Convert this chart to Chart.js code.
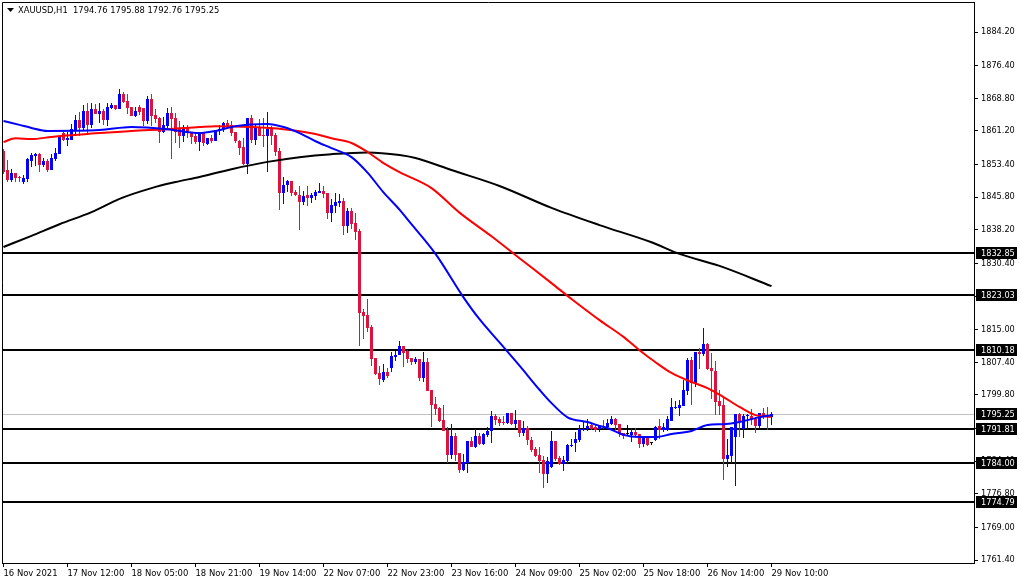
<!DOCTYPE html>
<html>
<head>
<meta charset="utf-8">
<title>XAUUSD,H1</title>
<script src="https://cdn.jsdelivr.net/npm/chart.js@4"></script>
<style>
  html, body { margin: 0; padding: 0; background: #fff; }
  canvas { display: block; }
</style>
</head>
<body>
<canvas id="chart" width="1020" height="584"></canvas>
<script>
const header = "XAUUSD,H1  1794.76 1795.88 1792.76 1795.25";

// one time label every 16 bars
const timeLabels = ["16 Nov 2021","17 Nov 12:00","18 Nov 05:00","18 Nov 21:00","19 Nov 14:00","22 Nov 07:00","22 Nov 23:00","23 Nov 16:00","24 Nov 09:00","25 Nov 02:00","25 Nov 18:00","26 Nov 14:00","29 Nov 10:00"];
const priceTicks = [1884.2,1876.4,1868.8,1861.2,1853.4,1845.8,1838.2,1830.4,1822.8,1815.0,1807.4,1799.8,1792.0,1784.4,1776.8,1769.0,1761.4];

// horizontal levels
const levels = [1832.85,1823.03,1810.18,1791.81,1784.00,1774.79];
const lastPrice = 1795.25;

const opens = [
  1856.5,1852.1,1849.8,1851.3,1850.4,1849.4,1850.0,1854.2,1855.4,1855.8,
  1853.3,1854.2,1852.1,1854.7,1855.8,1860.6,1859.2,1859.2,1861.4,1863.7,
  1861.8,1865.8,1862.6,1866.3,1865.1,1865.8,1863.7,1866.5,1867.2,1866.3,
  1869.8,1868.2,1866.7,1864.7,1866.7,1866.6,1863.6,1868.6,1864.9,1864.3,
  1861.0,1862.3,1865.4,1864.3,1861.8,1859.9,1862.2,1860.6,1859.9,1858.7,
  1860.8,1858.1,1859.6,1858.9,1861.1,1861.6,1863.1,1862.6,1860.9,1858.9,
  1857.5,1853.5,1864.1,1859.2,1862.0,1860.2,1859.9,1861.6,1860.2,1856.5,
  1846.8,1848.6,1849.6,1846.9,1846.3,1844.7,1846.3,1845.7,1846.0,1846.7,
  1847.2,1846.7,1842.0,1843.7,1844.4,1844.9,1839.1,1842.6,1839.7,1837.9,
  1819.0,1818.4,1815.5,1808.3,1804.8,1803.3,1805.1,1806.0,1808.7,1809.1,
  1811.2,1809.9,1808.3,1807.5,1808.1,1803.8,1807.5,1800.9,1797.7,1796.8,
  1794.0,1791.6,1785.8,1790.2,1786.2,1782.3,1783.9,1789.1,1787.6,1790.2,
  1788.4,1790.5,1791.3,1794.9,1794.1,1793.5,1793.3,1795.5,1793.0,1794.0,
  1791.0,1792.0,1789.2,1787.2,1785.8,1784.7,1781.4,1783.1,1789.1,1785.2,
  1783.7,1784.4,1787.9,1788.7,1789.3,1791.6,1791.8,1792.8,1792.3,1791.8,
  1792.6,1792.4,1793.0,1794.2,1793.0,1790.9,1790.6,1790.5,1791.2,1790.6,
  1788.4,1789.7,1788.6,1789.3,1792.6,1791.6,1791.6,1793.8,1796.8,1796.8,
  1797.2,1800.7,1807.9,1802.5,1809.7,1809.3,1811.6,1806.0,1805.4,1798.4,
  1797.5,1784.9,1785.7,1790.1,1795.4,1791.9,1794.9,1795.0,1794.3,1792.6,
  1795.5,1794.9,1794.76
];
const closes = [
  1851.7,1849.8,1851.3,1850.3,1850.2,1850.2,1854.6,1855.6,1855.8,1853.3,
  1854.2,1852.1,1854.8,1856.0,1860.0,1859.2,1859.6,1861.6,1863.7,1861.8,
  1865.8,1862.6,1866.2,1865.1,1865.8,1863.7,1866.7,1867.2,1866.2,1869.8,
  1868.0,1866.6,1864.7,1865.8,1865.7,1863.6,1868.6,1864.7,1864.0,1861.0,
  1862.6,1865.4,1864.0,1861.0,1859.9,1861.6,1860.6,1859.7,1858.6,1860.9,
  1858.5,1859.6,1858.9,1861.3,1861.6,1863.0,1861.8,1860.6,1858.9,1857.3,
  1853.5,1864.1,1859.2,1862.0,1859.9,1859.9,1861.6,1860.0,1856.4,1846.8,
  1848.6,1849.6,1846.8,1846.2,1844.7,1846.0,1845.7,1846.3,1847.0,1847.2,
  1846.5,1842.0,1844.0,1844.7,1845.0,1839.1,1842.6,1839.6,1837.8,1818.9,
  1818.2,1815.4,1808.2,1804.7,1803.5,1805.1,1804.2,1808.9,1809.2,1811.2,
  1809.6,1808.2,1807.5,1808.1,1803.8,1807.5,1800.7,1797.5,1796.5,1793.7,
  1791.4,1785.8,1790.2,1785.8,1782.3,1784.1,1789.1,1787.8,1790.2,1788.5,
  1790.7,1791.4,1794.9,1794.0,1793.3,1793.3,1795.5,1793.0,1793.9,1791.0,
  1792.0,1789.2,1787.0,1785.6,1784.4,1781.4,1784.4,1789.1,1785.0,1783.7,
  1784.7,1788.2,1788.2,1789.5,1791.8,1791.9,1792.6,1791.9,1791.6,1792.6,
  1792.4,1793.3,1794.2,1792.8,1790.7,1790.3,1790.6,1791.1,1790.5,1788.4,
  1790.1,1788.2,1788.6,1792.4,1791.6,1792.3,1794.2,1796.9,1797.0,1797.5,
  1800.9,1807.9,1802.6,1809.7,1809.3,1811.6,1805.8,1805.4,1798.2,1797.2,
  1784.9,1785.8,1792.4,1795.4,1793.4,1795.0,1795.1,1794.1,1792.6,1795.7,
  1794.6,1794.6,1795.25
];
const highs = [
  1857.0,1854.4,1852.3,1851.3,1850.8,1851.0,1854.8,1856.0,1856.1,1856.0,
  1854.8,1854.6,1855.8,1857.2,1860.0,1861.4,1861.0,1862.8,1864.9,1865.5,
  1867.2,1867.8,1867.6,1867.5,1867.8,1866.2,1867.6,1867.6,1867.2,1870.9,
  1870.2,1869.8,1866.7,1866.8,1867.2,1866.6,1869.3,1869.8,1866.2,1864.4,
  1864.5,1866.5,1866.8,1865.3,1863.4,1862.6,1862.6,1861.0,1860.6,1860.9,
  1861.0,1859.6,1860.2,1861.4,1862.6,1863.3,1863.7,1863.5,1861.0,1859.1,
  1859.5,1864.1,1864.9,1862.8,1863.9,1864.1,1865.5,1862.3,1860.6,1857.3,
  1850.4,1849.8,1849.6,1847.5,1848.4,1847.2,1848.4,1846.8,1847.5,1849.0,
  1848.4,1846.8,1845.4,1846.8,1846.5,1845.5,1843.2,1843.2,1842.0,1838.4,
  1819.7,1822.1,1816.1,1808.3,1806.5,1807.0,1806.0,1809.8,1809.9,1812.3,
  1811.2,1810.3,1808.5,1808.7,1808.1,1809.8,1808.3,1801.0,1799.4,1797.1,
  1797.5,1792.3,1793.0,1790.9,1786.2,1786.0,1789.1,1790.1,1791.8,1790.9,
  1791.0,1792.3,1796.1,1795.4,1794.7,1794.9,1795.7,1795.7,1796.3,1794.0,
  1793.7,1792.6,1790.1,1787.6,1787.8,1785.6,1785.4,1791.4,1789.1,1785.7,
  1785.6,1788.5,1789.5,1791.2,1792.8,1793.6,1794.1,1793.2,1793.0,1792.8,
  1794.0,1794.2,1794.9,1794.5,1793.0,1791.0,1792.7,1792.0,1792.0,1790.6,
  1790.1,1790.1,1788.6,1792.6,1794.2,1793.2,1794.9,1799.0,1798.4,1798.6,
  1803.3,1808.3,1808.7,1809.7,1810.6,1815.3,1811.8,1809.5,1807.8,1800.9,
  1799.0,1789.5,1792.4,1795.4,1795.5,1795.3,1795.3,1796.5,1794.6,1795.7,
  1796.7,1796.9,1795.88
];
const lows = [
  1851.2,1849.4,1849.4,1849.3,1849.4,1848.9,1849.4,1852.7,1853.1,1851.7,
  1852.9,1851.7,1852.1,1854.3,1855.8,1858.9,1857.8,1859.2,1860.0,1859.9,
  1861.4,1860.3,1861.8,1865.1,1863.0,1862.6,1862.3,1866.2,1866.1,1866.3,
  1867.6,1865.1,1864.7,1864.4,1864.9,1862.3,1862.8,1862.3,1863.0,1858.5,
  1860.8,1861.8,1854.7,1858.5,1857.3,1858.7,1859.5,1858.1,1858.1,1856.6,
  1857.8,1857.9,1858.5,1858.9,1860.2,1861.0,1861.8,1859.9,1858.3,1855.6,
  1853.3,1851.2,1858.3,1857.9,1859.9,1857.5,1851.7,1857.9,1855.4,1842.8,
  1844.2,1846.9,1846.0,1846.0,1838.2,1844.0,1843.7,1844.4,1845.1,1846.7,
  1845.5,1840.7,1839.9,1842.0,1843.4,1837.0,1837.4,1838.5,1835.8,1811.2,
  1812.8,1814.5,1806.5,1804.4,1802.0,1802.7,1803.8,1805.2,1807.8,1809.1,
  1806.4,1807.2,1806.8,1807.0,1803.0,1802.7,1800.7,1792.4,1795.1,1793.6,
  1791.3,1784.0,1785.0,1784.5,1781.7,1782.0,1781.7,1787.8,1787.4,1788.1,
  1788.1,1790.1,1788.7,1792.8,1792.6,1792.8,1793.0,1792.8,1791.8,1789.9,
  1790.3,1788.2,1786.6,1785.4,1781.6,1778.2,1779.4,1782.9,1784.5,1783.5,
  1782.1,1783.7,1787.6,1786.6,1788.9,1791.3,1791.5,1791.6,1791.2,1791.2,
  1791.8,1792.3,1792.8,1791.6,1790.1,1789.6,1790.2,1788.9,1790.1,1787.5,
  1787.6,1787.9,1788.2,1789.1,1789.5,1791.2,1791.5,1793.8,1796.5,1794.9,
  1797.2,1799.8,1797.5,1801.7,1805.8,1808.9,1805.6,1798.8,1795.1,1795.1,
  1780.0,1783.1,1783.9,1778.7,1789.9,1789.7,1791.6,1792.8,1790.9,1791.9,
  1794.3,1791.6,1792.76
];

// moving averages at these bars
const blueBars = [0,4,7,11,24,32,41,49,53,58,66,70,74,78,82,87,91,95,99,101,108,115,119,124,129,134,137,141,146,149,151,155,159,163,167,172,176,180,184,188,192];
const blueLine = [1863.5,1862.6,1861.9,1861.2,1861.4,1862.1,1861.6,1860.7,1861.2,1862.3,1862.8,1862.1,1860.7,1858.8,1857.2,1855.1,1851.5,1846.9,1842.9,1840.6,1832.6,1822.5,1817.4,1812.0,1806.6,1801.0,1797.9,1794.6,1793.5,1792.6,1792.1,1790.5,1790.0,1790.0,1790.7,1791.4,1792.8,1793.0,1793.5,1794.4,1795.1];
const redBars = [0,3,7,12,24,32,41,49,53,62,70,78,82,87,91,95,99,107,114,122,129,137,142,149,155,159,163,167,172,176,180,184,188,192];
const redLine = [1858.6,1859.5,1859.3,1859.8,1860.7,1861.2,1861.6,1862.1,1862.3,1862.1,1861.6,1860.5,1859.5,1858.4,1856.3,1853.7,1851.6,1847.9,1842.2,1836.7,1831.6,1825.8,1822.1,1817.2,1813.3,1810.2,1807.4,1804.9,1802.8,1801.4,1799.3,1797.0,1795.1,1794.7];
const blackBars = [0,7,14,22,29,37,43,49,57,66,74,82,91,99,103,112,124,137,149,162,169,179,192];
const blackLine = [1834.2,1836.8,1839.5,1842.3,1845.4,1847.9,1849.3,1850.5,1852.3,1854.0,1855.1,1855.8,1856.2,1855.6,1854.9,1852.1,1848.4,1843.3,1839.3,1835.3,1832.6,1829.8,1825.1];

const BLUE = "#0000ff";
const CRIMSON = "#dc143c";
const FAMILY = "'DejaVu Sans Condensed', 'DejaVu Sans', sans-serif";
const FONT = { family: FAMILY, size: 9.1 };

function candleColor(i) {
  if (Math.abs(closes[i] - opens[i]) < 0.01) return "#000";
  return closes[i] > opens[i] ? BLUE : CRIMSON;
}
const colors = opens.map((_, i) => candleColor(i));

function hline(y, color, width) {
  return {
    type: "line",
    isLevel: true,
    data: [{ x: -1, y }, { x: 243, y }],
    borderColor: color,
    borderWidth: width,
    pointRadius: 0,
    order: 10
  };
}

function maLine(bars, vals, color, order) {
  return {
    type: "line",
    data: bars.map((b, k) => ({ x: b, y: vals[k] })),
    borderColor: color,
    borderWidth: 2,
    pointRadius: 0,
    cubicInterpolationMode: "monotone",
    order
  };
}

// snap candles and level lines to whole pixels so they stay crisp
const snap = {
  id: "snap",
  afterDatasetsUpdate(chart) {
    chart.data.datasets.forEach((ds, d) => {
      const meta = chart.getDatasetMeta(d);
      if (meta.type === "bar") {
        for (const el of meta.data) {
          el.y = Math.round(el.y);
          el.base = Math.round(el.base);
          if (el.y === el.base) el.base = el.y + 1;
        }
      } else if (ds.isLevel) {
        for (const pt of meta.data) {
          pt.y = ds.borderWidth === 1 ? Math.floor(pt.y) + 0.5 : Math.round(pt.y);
        }
      }
    });
  }
};

// frame, header and the black price boxes
const extras = {
  id: "extras",
  afterDraw(chart) {
    const { ctx, chartArea, scales } = chart;
    ctx.save();
    ctx.strokeStyle = "#000";
    ctx.lineWidth = 1;
    ctx.beginPath();
    ctx.moveTo(2.5, chartArea.bottom);
    ctx.lineTo(2.5, 2.5);
    ctx.lineTo(chartArea.right, 2.5);
    ctx.stroke();

    ctx.fillStyle = "#000";
    ctx.beginPath();
    ctx.moveTo(7, 8);
    ctx.lineTo(14, 8);
    ctx.lineTo(10.5, 12);
    ctx.closePath();
    ctx.fill();

    ctx.font = "9.3px " + FAMILY;
    ctx.textBaseline = "middle";
    ctx.textAlign = "left";
    ctx.fillText(header, 18, 10.5);

    ctx.font = FONT.size + "px " + FAMILY;
    for (const p of [...levels, lastPrice]) {
      const y = Math.round(scales.y.getPixelForValue(p));
      ctx.fillStyle = "#000";
      ctx.fillRect(976, y - 6, 41, 12);
      ctx.fillStyle = "#fff";
      ctx.fillText(p.toFixed(2), 981, y + 0.5);
    }
    ctx.restore();
  }
};

new Chart(document.getElementById("chart"), {
  type: "bar",
  data: {
    datasets: [
      hline(lastPrice, "#c0c0c0", 1),
      ...levels.map(l => hline(l, "#000", 2)),
      {
        // wicks
        data: opens.map((_, i) => ({ x: i, y: [lows[i], highs[i]] })),
        backgroundColor: colors,
        barThickness: 1,
        grouped: false,
        inflateAmount: 0,
        order: 6
      },
      {
        // bodies
        data: opens.map((o, i) => ({ x: i, y: [o, closes[i]] })),
        backgroundColor: colors,
        barThickness: 3,
        minBarLength: 1,
        grouped: false,
        inflateAmount: 0,
        order: 5
      },
      maLine(blackBars, blackLine, "#000", 3),
      maLine(redBars, redLine, "#ff0000", 2),
      maLine(blueBars, blueLine, BLUE, 1)
    ]
  },
  options: {
    responsive: false,
    animation: false,
    devicePixelRatio: 1,
    layout: { padding: { left: 2, top: 2, right: 0, bottom: 0 } },
    plugins: { legend: { display: false }, tooltip: { enabled: false } },
    scales: {
      x: {
        type: "linear",
        min: -0.375,
        max: 242.625,
        offset: false,
        afterBuildTicks(scale) {
          scale.ticks = timeLabels.map((_, k) => ({ value: k * 16 }));
        },
        afterFit(scale) {
          scale.height = 21;
          scale.paddingLeft = 0;
          scale.paddingRight = 0;
        },
        ticks: {
          autoSkip: false,
          maxRotation: 0,
          align: "start",
          color: "#000",
          font: { family: FAMILY, size: 9.4 },
          padding: 1,
          callback: v => timeLabels[v / 16]
        },
        grid: { drawOnChartArea: false, offset: false, tickLength: 4, tickColor: "#000" },
        border: { color: "#000" }
      },
      y: {
        position: "right",
        min: 1760.71,
        max: 1891.18,
        afterBuildTicks(scale) {
          scale.ticks = priceTicks.map(value => ({ value }));
        },
        afterFit(scale) {
          scale.width = 46;
          scale.paddingTop = 0;
          scale.paddingBottom = 0;
        },
        ticks: {
          autoSkip: false,
          color: "#000",
          font: FONT,
          padding: 3,
          callback: v => v.toFixed(2)
        },
        grid: { drawOnChartArea: false, tickLength: 4, tickColor: "#000" },
        border: { color: "#000" }
      }
    }
  },
  plugins: [snap, extras]
});
</script>
</body>
</html>
